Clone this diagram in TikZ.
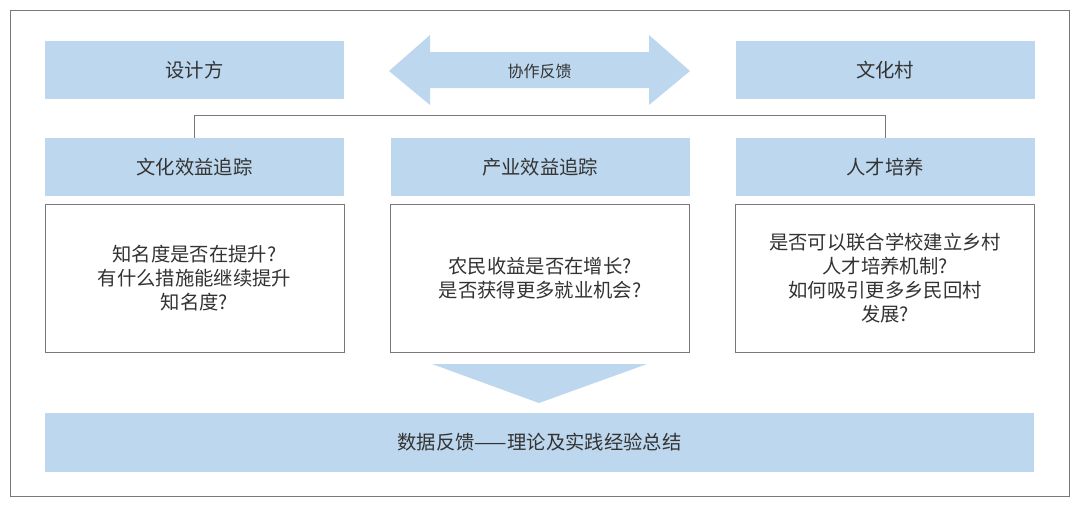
\documentclass[tikz,border=0pt]{standalone}
\usepackage{fontspec}
\setmainfont{Noto Sans CJK SC}

\definecolor{boxblue}{RGB}{189,215,238}
\definecolor{txtgray}{RGB}{51,51,51}
\definecolor{linegray}{RGB}{120,120,120}

\tikzset{every picture/.style={line width=0.75pt}}
\tikzset{
  headbox/.style={fill=boxblue, minimum width=224.25pt, minimum height=43.5pt, inner sep=0pt, text=txtgray, font=\fontsize{14.5}{17}\selectfont},
  askbox/.style={draw=linegray, fill=white, minimum width=224.25pt, minimum height=111pt, inner sep=0pt, align=center, text=txtgray, font=\fontsize{14.5}{18}\selectfont},
  sumbar/.style={fill=boxblue, minimum width=741.75pt, minimum height=44.25pt, inner sep=0pt, text=txtgray, font=\fontsize{14.5}{17}\selectfont},
}

\begin{document}
\begin{tikzpicture}[x=0.75pt,y=0.75pt,yscale=-1,xscale=1]
        \useasboundingbox (0,0) rectangle (1080,508);

        %Shape: Rectangle [outer frame]
        \draw [linegray]  (10,10) rectangle (1069,496) ;

        %Shape: Double Arrow
        \fill [boxblue]  (389,71) -- (430,35) -- (430,52) -- (649,52) -- (649,35) -- (690,71) -- (649,105) -- (649,88) -- (430,88) -- (430,105) -- cycle ;
        %Shape: Triangle
        \fill [boxblue]  (432,364) -- (647,364) -- (539,403) -- cycle ;

        % Text Node
        \node [headbox] (design) at (194.5,70) {设计方};
        % Text Node
        \node [headbox] (village) at (885,70) {文化村};
        % Text Node
        \node [text=txtgray, font=\fontsize{12}{14}\selectfont, inner sep=0.75pt] (feedback) at (539.5,71) {协作反馈};

        % Text Node
        \node [headbox] (culture) at (194.5,167) {文化效益追踪};
        % Text Node
        \node [headbox] (industry) at (540,167) {产业效益追踪};
        % Text Node
        \node [headbox] (talent) at (885,167) {人才培养};

        %Straight Lines
        \draw [linegray]  (culture.north) -- ++(0,-22) -| (talent.north) ;

        % Text Node
        \node [askbox] (cultureq) at (194.5,278) {知名度是否在提升?\\有什么措施能继续提升\\知名度?};
        % Text Node
        \node [askbox] (industryq) at (540,278) {农民收益是否在增长?\\是否获得更多就业机会?};
        % Text Node
        \node [askbox] (talentq) at (885,278) {是否可以联合学校建立乡村\\人才培养机制?\\如何吸引更多乡民回村\\发展?};

        % Text Node
        \node [sumbar] (summary) at (539.5,442.5) {数据反馈——理论及实践经验总结};

\end{tikzpicture}
\end{document}
